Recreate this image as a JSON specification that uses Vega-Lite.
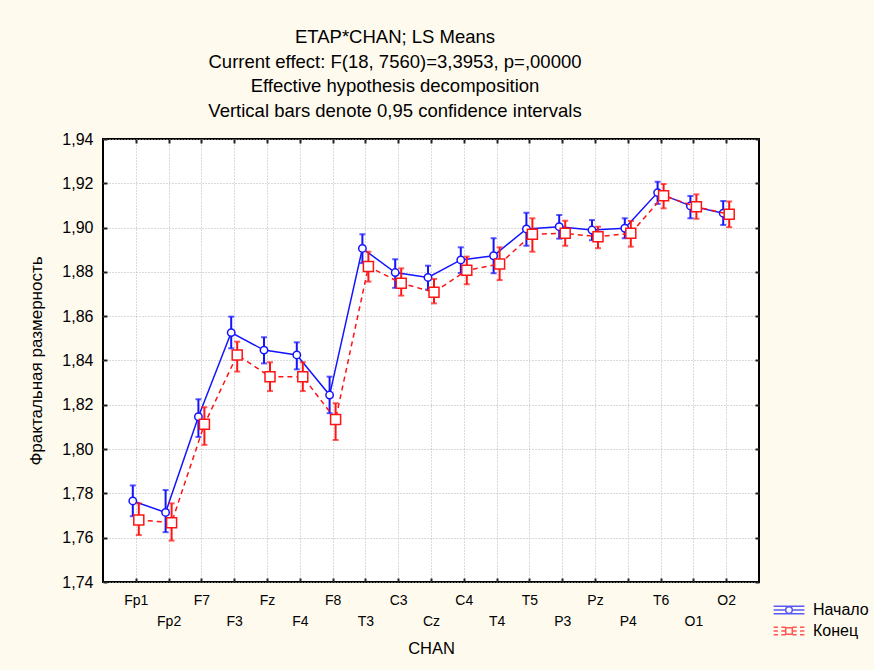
{
  "$schema": "https://vega.github.io/schema/vega-lite/v6.json",
  "width": 656,
  "height": 443,
  "autosize": "none",
  "padding": {"left": 103, "top": 139, "right": 115, "bottom": 88},
  "background": "#fffaee",
  "config": {
    "view": {"fill": "white", "stroke": "black", "strokeWidth": 2},
    "font": "Liberation Sans"
  },
  "title": {
    "text": ["ETAP*CHAN; LS Means", "Current effect: F(18, 7560)=3,3953, p=,00000", "Effective hypothesis decomposition", "Vertical bars denote 0,95 confidence intervals"],
    "fontSize": 18.5,
    "fontWeight": "normal",
    "color": "black",
    "lineHeight": 24.5,
    "anchor": "middle",
    "dx": -36,
    "offset": 11
  },
  "data": {
    "values": [
      {"chan": "Fp1", "series": "Начало", "mean": 1.7766, "lo": 1.7697, "hi": 1.7836},
      {"chan": "Fp2", "series": "Начало", "mean": 1.7714, "lo": 1.7625, "hi": 1.7815},
      {"chan": "F7", "series": "Начало", "mean": 1.8146, "lo": 1.8055, "hi": 1.8225},
      {"chan": "F3", "series": "Начало", "mean": 1.8526, "lo": 1.8455, "hi": 1.8598},
      {"chan": "Fz", "series": "Начало", "mean": 1.8447, "lo": 1.8387, "hi": 1.8505},
      {"chan": "F4", "series": "Начало", "mean": 1.8425, "lo": 1.8360, "hi": 1.8482},
      {"chan": "F8", "series": "Начало", "mean": 1.8244, "lo": 1.8162, "hi": 1.8327},
      {"chan": "T3", "series": "Начало", "mean": 1.8906, "lo": 1.8840, "hi": 1.8970},
      {"chan": "C3", "series": "Начало", "mean": 1.8797, "lo": 1.8728, "hi": 1.8857},
      {"chan": "Cz", "series": "Начало", "mean": 1.8775, "lo": 1.8720, "hi": 1.8828},
      {"chan": "C4", "series": "Начало", "mean": 1.8854, "lo": 1.8795, "hi": 1.8911},
      {"chan": "T4", "series": "Начало", "mean": 1.8873, "lo": 1.8794, "hi": 1.8952},
      {"chan": "T5", "series": "Начало", "mean": 1.8994, "lo": 1.8918, "hi": 1.9067},
      {"chan": "P3", "series": "Начало", "mean": 1.9004, "lo": 1.8950, "hi": 1.9057},
      {"chan": "Pz", "series": "Начало", "mean": 1.8989, "lo": 1.8943, "hi": 1.9034},
      {"chan": "P4", "series": "Начало", "mean": 1.8997, "lo": 1.8952, "hi": 1.9042},
      {"chan": "T6", "series": "Начало", "mean": 1.9158, "lo": 1.9107, "hi": 1.9207},
      {"chan": "O1", "series": "Начало", "mean": 1.9098, "lo": 1.9042, "hi": 1.9143},
      {"chan": "O2", "series": "Начало", "mean": 1.9065, "lo": 1.9012, "hi": 1.9120},
      {"chan": "Fp1", "series": "Конец", "mean": 1.7680, "lo": 1.7612, "hi": 1.7755},
      {"chan": "Fp2", "series": "Конец", "mean": 1.7668, "lo": 1.7587, "hi": 1.7755},
      {"chan": "F7", "series": "Конец", "mean": 1.8112, "lo": 1.8019, "hi": 1.8189},
      {"chan": "F3", "series": "Конец", "mean": 1.8425, "lo": 1.8350, "hi": 1.8485},
      {"chan": "Fz", "series": "Конец", "mean": 1.8327, "lo": 1.8262, "hi": 1.8392},
      {"chan": "F4", "series": "Конец", "mean": 1.8327, "lo": 1.8262, "hi": 1.8392},
      {"chan": "F8", "series": "Конец", "mean": 1.8134, "lo": 1.8041, "hi": 1.8207},
      {"chan": "T3", "series": "Конец", "mean": 1.8824, "lo": 1.8756, "hi": 1.8891},
      {"chan": "C3", "series": "Конец", "mean": 1.8749, "lo": 1.8693, "hi": 1.8816},
      {"chan": "Cz", "series": "Конец", "mean": 1.8708, "lo": 1.8658, "hi": 1.8768},
      {"chan": "C4", "series": "Конец", "mean": 1.8807, "lo": 1.8744, "hi": 1.8869},
      {"chan": "T4", "series": "Конец", "mean": 1.8836, "lo": 1.8763, "hi": 1.8911},
      {"chan": "T5", "series": "Конец", "mean": 1.8970, "lo": 1.8891, "hi": 1.9042},
      {"chan": "P3", "series": "Конец", "mean": 1.8974, "lo": 1.8918, "hi": 1.9031},
      {"chan": "Pz", "series": "Конец", "mean": 1.8959, "lo": 1.8907, "hi": 1.9004},
      {"chan": "P4", "series": "Конец", "mean": 1.8974, "lo": 1.8914, "hi": 1.9030},
      {"chan": "T6", "series": "Конец", "mean": 1.9144, "lo": 1.9087, "hi": 1.9197},
      {"chan": "O1", "series": "Конец", "mean": 1.9094, "lo": 1.9040, "hi": 1.9150},
      {"chan": "O2", "series": "Конец", "mean": 1.9060, "lo": 1.9002, "hi": 1.9118}
    ]
  },
  "layer": [
    {
      "transform": [{"filter": "datum.series == 'Начало'"}],
      "mark": {"type": "line", "color": "#1414ff", "strokeWidth": 1.5, "xOffset": -3},
      "encoding": {
        "x": {
          "field": "chan", "type": "nominal",
          "scale": {"type": "point", "padding": 1, "domain": ["Fp1","Fp2","F7","F3","Fz","F4","F8","T3","C3","Cz","C4","T4","T5","P3","Pz","P4","T6","O1","O2"]},
          "axis": {
            "orient": "bottom", "title": "CHAN", "titleFontSize": 16.5, "titleFontWeight": "normal", "titleColor": "black", "titlePadding": 12,
            "ticks": false, "tickSize": 0, "domain": false,
            "grid": true, "gridColor": "#b4b4b4", "gridDash": [1, 2], "gridWidth": 1,
            "labelAngle": 0, "labelFontSize": 14, "labelColor": "black", "labelPadding": 11, "labelLineHeight": 21,
            "labelBaseline": "top", "labelOverlap": false, "labelBound": false,
            "labelExpr": "indexof(['Fp1','Fp2','F7','F3','Fz','F4','F8','T3','C3','Cz','C4','T4','T5','P3','Pz','P4','T6','O1','O2'], datum.value) % 2 == 1 ? ['', datum.value] : datum.value"
          }
        },
        "y": {
          "field": "mean", "type": "quantitative",
          "scale": {"domain": [1.74, 1.94], "zero": false, "nice": false},
          "axis": {
            "orient": "left", "title": "Фрактальная размерность", "titleFontSize": 17, "titleFontWeight": "normal", "titleColor": "black", "titlePadding": 16,
            "values": [1.74, 1.76, 1.78, 1.80, 1.82, 1.84, 1.86, 1.88, 1.90, 1.92, 1.94],
            "ticks": false, "tickSize": 0, "domain": false,
            "grid": true, "gridColor": "#b4b4b4", "gridDash": [1, 2], "gridWidth": 1,
            "labelFontSize": 16, "labelColor": "black", "labelPadding": 10,
            "labelExpr": "replace(format(datum.value, '.2f'), '.', ',')"
          }
        }
      }
    },
    {
      "transform": [{"filter": "datum.series == 'Начало'"}],
      "mark": {"type": "rule", "color": "#1414ff", "strokeWidth": 2, "xOffset": -3},
      "encoding": {
        "x": {"field": "chan", "type": "nominal", "axis": {"orient": "bottom", "offset": -4, "labels": false, "ticks": true, "tickSize": 4, "tickWidth": 2, "tickColor": "#222", "domain": false, "grid": false, "title": null}},
        "y": {"field": "lo", "type": "quantitative", "axis": {"orient": "left", "offset": -4, "labels": false, "ticks": true, "tickSize": 4, "tickWidth": 2, "tickColor": "#222", "domain": false, "grid": false, "title": null, "values": [1.74, 1.76, 1.78, 1.80, 1.82, 1.84, 1.86, 1.88, 1.90, 1.92, 1.94]}},
        "y2": {"field": "hi"}
      }
    },
    {
      "transform": [{"filter": "datum.series == 'Начало'"}],
      "mark": {"type": "tick", "color": "#1414ff", "size": 6, "thickness": 2, "xOffset": -3},
      "encoding": {
        "x": {"field": "chan", "type": "nominal", "axis": {"orient": "top", "offset": -4, "labels": false, "ticks": true, "tickSize": 4, "tickWidth": 2, "tickColor": "#222", "domain": false, "grid": false, "title": null}},
        "y": {"field": "lo", "type": "quantitative", "axis": {"orient": "right", "offset": -4, "labels": false, "ticks": true, "tickSize": 4, "tickWidth": 2, "tickColor": "#222", "domain": false, "grid": false, "title": null, "values": [1.74, 1.76, 1.78, 1.80, 1.82, 1.84, 1.86, 1.88, 1.90, 1.92, 1.94]}}
      }
    },
    {
      "transform": [{"filter": "datum.series == 'Начало'"}],
      "mark": {"type": "tick", "color": "#1414ff", "size": 6, "thickness": 2, "xOffset": -3},
      "encoding": {
        "x": {"field": "chan", "type": "nominal", "axis": null},
        "y": {"field": "hi", "type": "quantitative", "axis": null}
      }
    },
    {
      "transform": [{"filter": "datum.series == 'Начало'"}],
      "mark": {"type": "point", "shape": "circle", "size": 55, "filled": false, "fill": "white", "fillOpacity": 1, "stroke": "#1414ff", "strokeWidth": 1.5, "opacity": 1, "xOffset": -3},
      "encoding": {
        "x": {"field": "chan", "type": "nominal", "axis": null},
        "y": {"field": "mean", "type": "quantitative", "axis": null}
      }
    },
    {
      "transform": [{"filter": "datum.series == 'Конец'"}],
      "mark": {"type": "line", "color": "#ff1414", "strokeWidth": 1.5, "strokeDash": [5, 4], "xOffset": 3},
      "encoding": {
        "x": {"field": "chan", "type": "nominal", "axis": null},
        "y": {"field": "mean", "type": "quantitative", "axis": null}
      }
    },
    {
      "transform": [{"filter": "datum.series == 'Конец'"}],
      "mark": {"type": "rule", "color": "#ff1414", "strokeWidth": 2, "xOffset": 3},
      "encoding": {
        "x": {"field": "chan", "type": "nominal", "axis": null},
        "y": {"field": "lo", "type": "quantitative", "axis": null},
        "y2": {"field": "hi"}
      }
    },
    {
      "transform": [{"filter": "datum.series == 'Конец'"}],
      "mark": {"type": "tick", "color": "#ff1414", "size": 6, "thickness": 2, "xOffset": 3},
      "encoding": {
        "x": {"field": "chan", "type": "nominal", "axis": null},
        "y": {"field": "lo", "type": "quantitative", "axis": null}
      }
    },
    {
      "transform": [{"filter": "datum.series == 'Конец'"}],
      "mark": {"type": "tick", "color": "#ff1414", "size": 6, "thickness": 2, "xOffset": 3},
      "encoding": {
        "x": {"field": "chan", "type": "nominal", "axis": null},
        "y": {"field": "hi", "type": "quantitative", "axis": null}
      }
    },
    {
      "transform": [{"filter": "datum.series == 'Конец'"}],
      "mark": {"type": "point", "shape": "square", "size": 100, "filled": false, "fill": "white", "fillOpacity": 1, "stroke": "#ff1414", "strokeWidth": 1.5, "opacity": 1, "xOffset": 3},
      "encoding": {
        "x": {"field": "chan", "type": "nominal", "axis": null},
        "y": {"field": "mean", "type": "quantitative", "axis": null}
      }
    },
    {
      "mark": {"type": "point", "size": 0, "filled": false, "strokeWidth": 1.5},
      "encoding": {
        "x": {"field": "chan", "type": "nominal", "axis": null},
        "y": {"field": "mean", "type": "quantitative", "axis": null},
        "color": {
          "field": "series", "type": "nominal",
          "scale": {"domain": ["Начало", "Конец"], "range": ["#1414ff", "#ff1414"]},
          "legend": {"title": null, "orient": "none", "legendX": 670, "legendY": 459, "padding": 0, "rowPadding": 1, "symbolSize": 484, "symbolStrokeWidth": 1.5, "symbolFillColor": "white", "symbolOffset": 4, "labelOffset": 12, "labelFontSize": 16, "labelColor": "black"}
        },
        "shape": {
          "field": "series", "type": "nominal",
          "scale": {"domain": ["Начало", "Конец"], "range": [
            "M-1.4,-0.35H1.4M-1.4,0.35H1.4M0,-0.35V-0.3M0,0.3V0.35M-1.4,0H-0.3M0.3,0H1.4M-0.3,0A0.3,0.3 0 1,1 0.3,0A0.3,0.3 0 1,1 -0.3,0",
            "M-1.4,-0.35H-1M-0.7,-0.35H-0.3M0.3,-0.35H0.7M1,-0.35H1.4M-1.4,0.35H-1M-0.7,0.35H-0.3M0.3,0.35H0.7M1,0.35H1.4M-1.4,0H-1M-0.7,0H-0.3M0.3,0H0.7M1,0H1.4M-0.3,-0.3H0.3V0.3H-0.3Z"
          ]},
          "legend": {"title": null, "orient": "none", "legendX": 670, "legendY": 459, "padding": 0, "rowPadding": 1, "symbolSize": 484, "symbolStrokeWidth": 1.5, "symbolFillColor": "white", "symbolOffset": 4, "labelOffset": 12, "labelFontSize": 16, "labelColor": "black"}
        }
      }
    }
  ],
  "resolve": {
    "scale": {"shape": "independent", "color": "independent"},
    "axis": {"x": "independent", "y": "independent"}
  }
}
